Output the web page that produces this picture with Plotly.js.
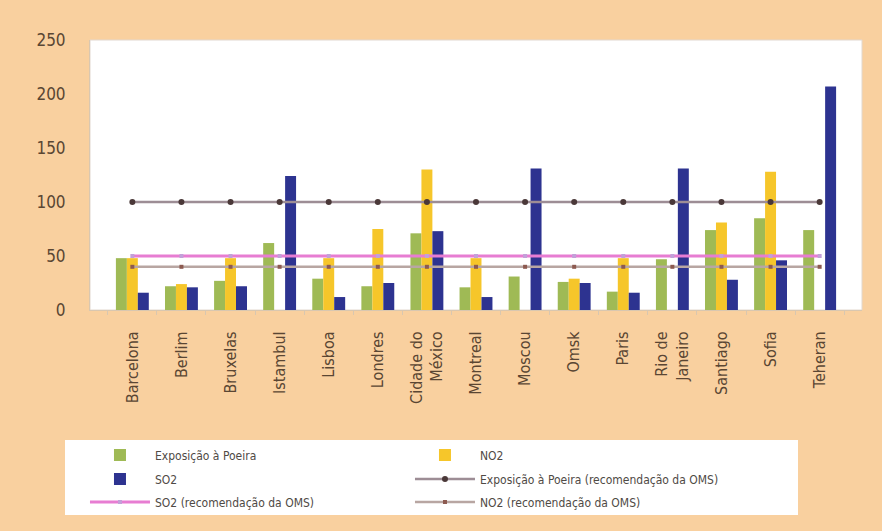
<!DOCTYPE html>
<html>
<head>
<meta charset="utf-8">
<script src="https://cdn.plot.ly/plotly-3.0.1.min.js"></script>
<style>
  html, body { margin: 0; padding: 0; background: #ffffff; }
  #chart { width: 882px; height: 531px; }
</style>
</head>
<body>
<div id="chart"></div>
<script>
const cidades = ["Barcelona", "Berlim", "Bruxelas", "Istambul", "Lisboa", "Londres",
  "Cidade do<br>México", "Montreal", "Moscou", "Omsk", "Paris", "Rio de<br>Janeiro",
  "Santiago", "Sofia", "Teheran"];
const poeira = [48, 22, 27, 62, 29, 22, 71, 21, 31, 26, 17, 47, 74, 85, 74];
const no2 = [48, 24, 48, null, 48, 75, 130, 48, null, 29, 48, null, 81, 128, null];
const so2 = [16, 21, 22, 124, 12, 25, 73, 12, 131, 25, 16, 131, 28, 46, 207];
const poeiraOMS = [100, 100, 100, 100, 100, 100, 100, 100, 100, 100, 100, 100, 100, 100, 100];
const so2OMS = [50, 50, 50, 50, 50, 50, 50, 50, 50, 50, 50, 50, 50, 50, 50];
const no2OMS = [40, 40, 40, 40, 40, 40, 40, 40, 40, 40, 40, 40, 40, 40, 40];
const yTicks = [0, 50, 100, 150, 200, 250];

const FONT = "'DejaVu Sans Condensed', 'Liberation Sans Narrow', 'Arial Narrow', sans-serif";
const TXT = "#5a4633";

const traces = [
  { type: "bar", name: "Exposição à Poeira", x: cidades, y: poeira,
    marker: { color: "#9fba55" }, legend: "legend" },
  { type: "bar", name: "NO2", x: cidades, y: no2,
    marker: { color: "#f6c62a" }, legend: "legend" },
  { type: "bar", name: "SO2", x: cidades, y: so2,
    marker: { color: "#2d3390" }, legend: "legend2" },
  { type: "scatter", mode: "lines+markers", name: "Exposição à Poeira (recomendação da OMS)",
    x: cidades, y: poeiraOMS, legend: "legend2",
    line: { color: "#9d8d95", width: 2.5 },
    marker: { color: "#4a3838", size: 6, symbol: "circle" } },
  { type: "scatter", mode: "lines+markers", name: "SO2 (recomendação da OMS)",
    x: cidades, y: so2OMS, legend: "legend3",
    line: { color: "#e77dd2", width: 3 },
    marker: { color: "#c3a0d8", size: 4, symbol: "square" } },
  { type: "scatter", mode: "lines+markers", name: "NO2 (recomendação da OMS)",
    x: cidades, y: no2OMS, legend: "legend3",
    line: { color: "#b8a6a2", width: 2.5 },
    marker: { color: "#8c5a50", size: 4, symbol: "square" } }
];

function legendRow(yPaper) {
  return {
    orientation: "h",
    x: -0.0065, xanchor: "left",
    y: yPaper, yanchor: "middle",
    bgcolor: "rgba(0,0,0,0)",
    borderwidth: 0,
    entrywidth: 250, entrywidthmode: "pixels",
    itemwidth: 60,
    traceorder: "normal",
    font: { family: FONT, size: 12, color: "#4f4a45" }
  };
}

const layout = {
  width: 882, height: 531,
  paper_bgcolor: "#f9d09f",
  plot_bgcolor: "#ffffff",
  margin: { l: 90, r: 20, t: 40, b: 221, pad: 0 },
  barmode: "group",
  bargap: 0.33,
  bargroupgap: 0,
  font: { family: FONT, color: TXT, size: 13 },
  showlegend: true,
  xaxis: {
    type: "category",
    tickangle: -90,
    tickfont: { family: FONT, size: 16, color: TXT },
    showgrid: false,
    showline: true, linecolor: "#d9c7b0", linewidth: 1,
    ticks: "outside", ticklen: 4, tickcolor: "#d9c7b0", tickson: "boundaries",
    ticklabelstandoff: 14,
    fixedrange: true
  },
  yaxis: {
    range: [0, 250],
    tickvals: yTicks,
    ticktext: yTicks.map(String),
    tickfont: { family: FONT, size: 17, color: TXT },
    showgrid: false,
    zeroline: false,
    showline: true, linecolor: "#d9c7b0", linewidth: 1,
    ticks: "",
    ticklabelstandoff: 20,
    fixedrange: true
  },
  shapes: [
    { type: "rect", xref: "paper", yref: "paper", x0: 0, x1: 1, y0: 0, y1: 1,
      line: { color: "#e2d8cf", width: 1 }, fillcolor: "rgba(0,0,0,0)", layer: "below" },
    { type: "rect", xref: "paper", yref: "paper",
      x0: (65 - 90) / 772, x1: (798 - 90) / 772,
      y0: (310 - 515) / 270, y1: (310 - 440) / 270,
      line: { width: 0 }, fillcolor: "#ffffff", layer: "below" }
  ],
  legend: legendRow((310 - 455) / 270),
  legend2: legendRow((310 - 479) / 270),
  legend3: legendRow((310 - 502) / 270)
};

Plotly.newPlot("chart", traces, layout, { displayModeBar: false, staticPlot: true });
</script>
</body>
</html>
